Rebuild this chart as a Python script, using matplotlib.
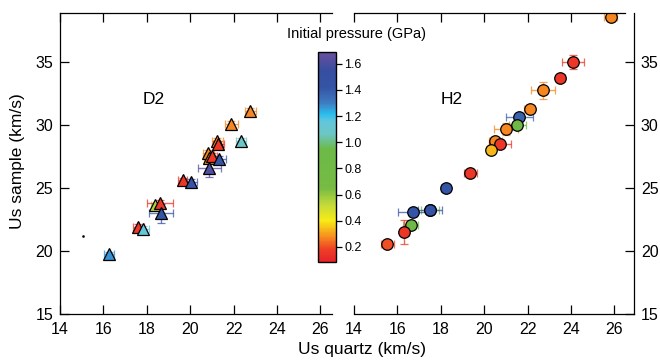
import matplotlib
matplotlib.use("Agg")
import matplotlib.pyplot as plt
from matplotlib.colors import LinearSegmentedColormap, Normalize
from matplotlib.cm import ScalarMappable
import numpy as np

plt.rcParams['font.family'] = ['Liberation Sans', 'DejaVu Sans']

# D2 shots: quartz Us, sample Us, errors, initial pressure (GPa)
d2_x = [22.76, 21.90, 22.34, 21.25, 21.30, 20.83, 20.87, 20.99, 21.34, 20.88,
        19.65, 20.04, 18.38, 18.60, 18.65, 17.60, 17.84, 16.26]
d2_y = [31.10, 30.05, 28.70, 28.75, 28.50, 27.80, 27.35, 27.55, 27.30, 26.60,
        25.63, 25.50, 23.65, 23.83, 23.00, 21.93, 21.75, 19.76]
d2_xerr = [0.25, 0.30, 0.25, 0.25, 0.25, 0.25, 0.25, 0.25, 0.30, 0.54,
           0.20, 0.25, 0.20, 0.60, 0.55, 0.25, 0.25, 0.25]
d2_yerr = [0.25, 0.25, 0.25, 0.25, 0.25, 0.25, 0.25, 0.25, 0.25, 0.70,
           0.20, 0.20, 0.20, 0.20, 0.74, 0.20, 0.20, 0.20]
d2_p = [0.27, 0.27, 1.08, 0.27, 0.15, 0.27, 0.27, 0.15, 1.42, 1.62,
        0.15, 1.42, 0.55, 0.15, 1.42, 0.15, 1.15, 1.27]

# H2 shots
h2_x = [25.83, 24.10, 23.50, 22.70, 22.10, 21.62, 21.53, 21.00, 20.50, 20.73,
        20.30, 19.35, 18.22, 17.50, 17.50, 16.73, 16.61, 16.32, 15.53]
h2_y = [38.60, 35.00, 33.70, 32.75, 31.30, 30.66, 29.97, 29.68, 28.70, 28.50,
        28.00, 26.20, 24.97, 23.25, 23.25, 23.07, 22.06, 21.53, 20.53]
h2_xerr = [0.30, 0.50, 0.20, 0.55, 0.25, 0.61, 0.40, 0.54, 0.30, 0.50,
           0.20, 0.30, 0.20, 0.40, 0.54, 0.70, 0.35, 0.20, 0.30]
h2_yerr = [0.20, 0.58, 0.20, 0.70, 0.25, 0.30, 0.30, 0.50, 0.25, 0.25,
           0.20, 0.25, 0.20, 0.25, 0.25, 0.25, 0.25, 0.95, 0.25]
h2_p = [0.27, 0.15, 0.15, 0.27, 0.27, 1.38, 0.85, 0.27, 0.27, 0.15,
        0.33, 0.15, 1.42, 0.85, 1.42, 1.42, 0.85, 0.15, 0.20]

cb_ticks = [0.2, 0.4, 0.6, 0.8, 1.0, 1.2, 1.4, 1.6]
pmin, pmax = 0.085, 1.69

stops = [(0.085, '#e8232a'), (0.18, '#ee3f26'), (0.28, '#f7901e'),
         (0.40, '#f8ec16'), (0.52, '#c4da3a'), (0.65, '#76bb43'),
         (0.95, '#6cba48'), (1.06, '#6cc6c2'), (1.16, '#62c6dc'),
         (1.22, '#28bdee'), (1.30, '#3f7cc2'), (1.42, '#3554a5'),
         (1.55, '#374ea0'), (1.69, '#6a4f9f')]
cmap = LinearSegmentedColormap.from_list(
    'pressure', [((v - pmin) / (pmax - pmin), c) for v, c in stops])
norm = Normalize(pmin, pmax)

fig = plt.figure(figsize=(6.6, 3.6), dpi=100)
ax1 = fig.add_axes([0.0909, 0.1278, 0.4121, 0.8361])
ax2 = fig.add_axes([0.5364, 0.1278, 0.4242, 0.8361])


def draw(ax, xs, ys, xe, ye, ps, marker, ms):
    for x, y, dx, dy, p in zip(xs, ys, xe, ye, ps):
        c = cmap(norm(p))
        ax.errorbar(x, y, xerr=dx, yerr=dy, fmt=marker, ms=ms, mfc=c,
                    mec='black', mew=0.9, ecolor=(c[0], c[1], c[2], 0.75),
                    elinewidth=1.0, capsize=3, capthick=1.0)


draw(ax1, d2_x, d2_y, d2_xerr, d2_yerr, d2_p, '^', 8.5)
ax1.plot([15.06], [21.2], 's', ms=0.8, color='black')
draw(ax2, h2_x, h2_y, h2_xerr, h2_yerr, h2_p, 'o', 8.3)

xt = [14, 16, 18, 20, 22, 24, 26]
yt = [15, 20, 25, 30, 35]
for ax, xmax in ((ax1, 26.53), (ax2, 26.9)):
    ax.set_xlim(14, xmax)
    ax.set_ylim(15, 38.9)
    ax.set_xticks(xt)
    ax.set_yticks(yt)
    ax.tick_params(direction='in', length=6.5, width=0.9, labelsize=11.5,
                   top=True)
    ax.tick_params(axis='x', pad=6)
    ax.tick_params(axis='y', pad=5)
    for s in ax.spines.values():
        s.set_linewidth(0.9)

ax1.spines['right'].set_visible(False)
ax1.tick_params(right=False)
ax2.spines['left'].set_visible(False)
ax2.spines['top'].set_bounds(14, 26.5)
ax2.tick_params(left=False, labelleft=False, right=True, labelright=True)

ax1.text(18.3, 32.0, 'D2', fontsize=12.5, ha='center', va='center')
ax2.text(18.5, 32.0, 'H2', fontsize=12.5, ha='center', va='center')

fig.text(0.027, 0.553, 'Us sample (km/s)', rotation=90, fontsize=12.5,
         ha='center', va='center')
fig.text(0.548, 0.028, 'Us quartz (km/s)', fontsize=12.5, ha='center',
         va='center')

cax = fig.add_axes([0.4818, 0.2722, 0.0273, 0.5834])
cb = fig.colorbar(ScalarMappable(norm=norm, cmap=cmap), cax=cax,
                  ticks=cb_ticks)
cb.ax.set_yticklabels(['%.1f' % t for t in cb_ticks])
cb.ax.tick_params(labelsize=9, length=4, width=0.9, pad=2)
cb.outline.set_linewidth(1.0)
fig.text(0.540, 0.906, 'Initial pressure (GPa)', fontsize=10.5,
         ha='center', va='center')

fig.savefig('out.png', dpi=100)
